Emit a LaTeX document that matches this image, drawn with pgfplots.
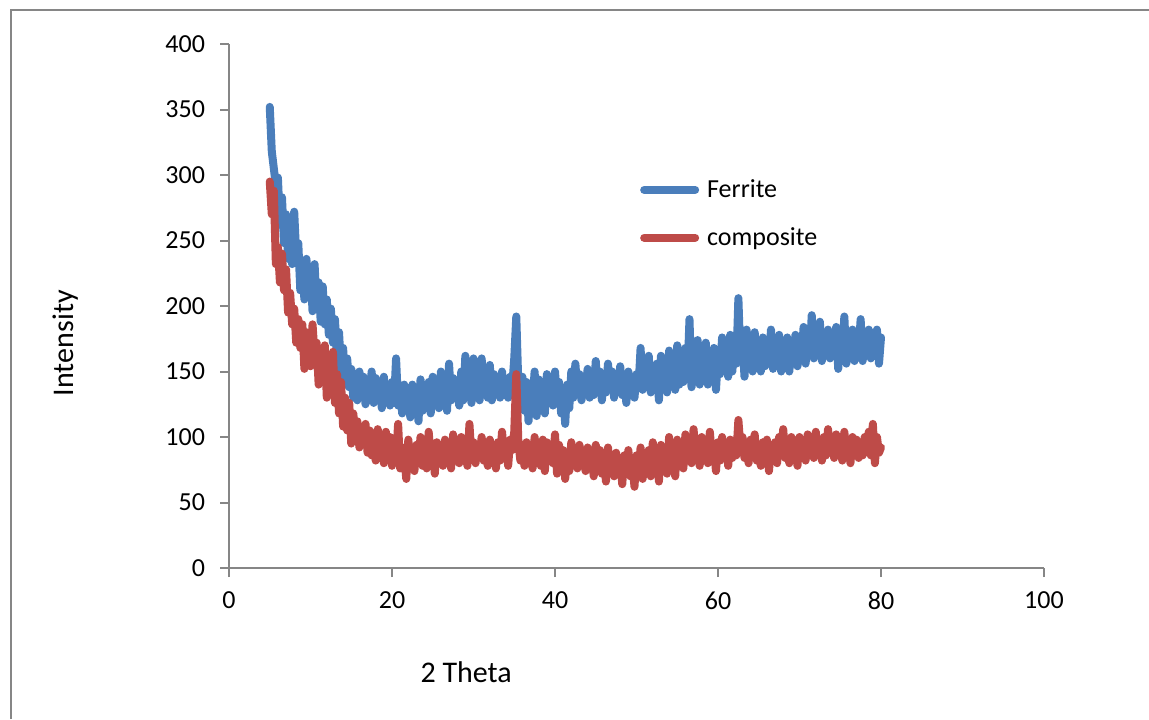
\documentclass[border=0pt]{standalone}
\usepackage{fontspec}
\setmainfont{Carlito}
\usepackage{pgfplots}
\usepackage{pgfplotstable}
\pgfplotsset{compat=1.18}

\definecolor{ferriteblue}{RGB}{74,126,187}
\definecolor{compositered}{RGB}{190,75,72}
\definecolor{axisgrey}{RGB}{134,134,134}

% 2 theta, Ferrite intensity, composite intensity
\pgfplotstableread{
x ferrite composite
5.00 352 295
5.25 318 270
5.50 305 288
5.75 292 232
6.00 298 245
6.25 262 218
6.50 283 240
6.75 248 212
7.00 270 228
7.25 236 195
7.50 255 210
7.75 232 186
8.00 272 198
8.25 238 172
8.50 248 190
8.75 212 168
9.00 230 186
9.25 205 152
9.50 236 180
9.75 210 170
10.00 228 154
10.25 196 186
10.50 232 162
10.75 200 172
11.00 218 140
11.25 188 165
11.50 215 150
11.75 186 170
12.00 205 130
12.25 178 160
12.50 198 136
12.75 172 165
13.00 190 126
13.25 160 148
13.50 180 118
13.75 150 142
14.00 168 108
14.25 140 130
14.50 160 105
14.75 138 126
15.00 152 95
15.25 130 118
15.50 148 100
15.75 128 112
16.00 150 92
16.25 132 108
16.50 146 96
16.75 125 110
17.00 144 88
17.25 130 105
17.50 150 86
17.75 126 100
18.00 145 82
18.25 128 106
18.50 140 90
18.75 122 98
19.00 146 80
19.25 128 104
19.50 138 84
19.75 124 100
20.00 142 78
20.25 126 96
20.50 160 84
20.75 124 110
21.00 138 76
21.25 118 92
21.50 140 86
21.75 122 68
22.00 132 98
22.25 115 80
22.50 140 90
22.75 126 74
23.00 136 94
23.25 112 82
23.50 144 100
23.75 120 78
24.00 138 92
24.25 126 76
24.50 142 104
24.75 118 84
25.00 146 92
25.25 128 72
25.50 138 96
25.75 122 84
26.00 150 90
26.25 124 78
26.50 140 98
26.75 120 80
27.00 156 92
27.25 128 76
27.50 145 102
27.75 130 84
28.00 138 94
28.25 124 80
28.50 150 100
28.75 128 86
29.00 162 92
29.25 132 78
29.50 146 110
29.75 126 84
30.00 160 96
30.25 134 80
30.50 148 94
30.75 128 86
31.00 160 100
31.25 134 82
31.50 144 90
31.75 130 78
32.00 155 98
32.25 128 88
32.50 148 92
32.75 136 76
33.00 142 96
33.25 130 82
33.50 150 104
33.75 132 86
34.00 140 92
34.25 130 78
34.50 146 98
34.75 138 90
35.00 160 104
35.25 192 148
35.50 140 96
35.75 134 82
36.00 146 94
36.25 120 78
36.50 142 96
36.75 112 84
37.00 138 90
37.25 128 76
37.50 150 100
37.75 116 80
38.00 144 92
38.25 128 78
38.50 138 98
38.75 118 74
39.00 148 96
39.25 130 84
39.50 140 92
39.75 124 80
40.00 150 102
40.25 128 72
40.50 142 94
40.75 118 78
41.00 136 90
41.25 110 68
41.50 140 86
41.75 122 74
42.00 150 96
42.25 130 80
42.50 156 90
42.75 134 76
43.00 148 94
43.25 128 80
43.50 144 88
43.75 136 74
44.00 152 92
44.25 130 82
44.50 146 86
44.75 132 70
45.00 158 94
45.25 136 78
45.50 150 90
45.75 128 72
46.00 146 86
46.25 134 66
46.50 156 92
46.75 138 76
47.00 150 84
47.25 130 70
47.50 148 88
47.75 136 72
48.00 154 82
48.25 132 64
48.50 146 86
48.75 126 74
49.00 150 90
49.25 138 70
49.50 144 80
49.75 130 62
50.00 148 86
50.25 138 72
50.50 168 92
50.75 136 68
51.00 154 84
51.25 140 74
51.50 162 90
51.75 134 70
52.00 150 96
52.25 142 76
52.50 156 88
52.75 128 66
53.00 162 94
53.25 140 80
53.50 152 88
53.75 134 72
54.00 166 100
54.25 142 78
54.50 158 92
54.75 136 70
55.00 170 98
55.25 140 80
55.50 160 90
55.75 142 76
56.00 168 102
56.25 146 82
56.50 190 96
56.75 138 80
57.00 162 106
57.25 148 86
57.50 174 94
57.75 140 78
58.00 166 100
58.25 148 84
58.50 172 96
58.75 140 80
59.00 160 104
59.25 146 84
59.50 168 92
59.75 136 74
60.00 162 96
60.25 148 82
60.50 176 100
60.75 152 86
61.00 170 94
61.25 146 78
61.50 178 98
61.75 150 84
62.00 170 96
62.25 156 86
62.50 206 113
62.75 158 92
63.00 174 100
63.25 146 84
63.50 182 96
63.75 156 80
64.00 170 98
64.25 150 86
64.50 180 102
64.75 158 82
65.00 168 94
65.25 150 78
65.50 176 96
65.75 154 84
66.00 172 98
66.25 156 74
66.50 182 92
66.75 152 82
67.00 170 96
67.25 158 80
67.50 178 100
67.75 150 86
68.00 172 106
68.25 156 84
68.50 176 94
68.75 150 80
69.00 172 100
69.25 158 86
69.50 178 94
69.75 154 78
70.00 174 100
70.25 160 84
70.50 184 96
70.75 156 82
71.00 178 102
71.25 162 86
71.50 193 98
71.75 160 84
72.00 180 104
72.25 164 88
72.50 188 96
72.75 158 82
73.00 176 100
73.25 164 86
73.50 182 106
73.75 160 88
74.00 178 98
74.25 166 84
74.50 184 102
74.75 152 88
75.00 176 96
75.25 160 82
75.50 192 104
75.75 156 86
76.00 172 94
76.25 162 80
76.50 182 100
76.75 158 88
77.00 176 98
77.25 164 84
77.50 190 96
77.75 158 86
78.00 178 100
78.25 162 90
78.50 182 104
78.75 160 86
79.00 176 110
79.25 162 80
79.50 182 100
79.75 156 88
80.00 176 92
}\xrddata

\begin{document}
\begin{tikzpicture}
\useasboundingbox (0,0) rectangle (574.5pt,359.5pt);
% outer chart frame
\draw[axisgrey, line width=1pt] (5.5pt,0pt) -- (5.5pt,354.5pt) -- (580pt,354.5pt);
\begin{axis}[
  at={(114.5pt,75.5pt)}, anchor=south west,
  scale only axis,
  width=407.5pt, height=262pt,
  xmin=0, xmax=100, ymin=0, ymax=400,
  xtick={0,20,...,100},
  ytick={0,50,...,400},
  axis lines*=left,
  axis line style={axisgrey, line width=1pt},
  tick style={axisgrey, line width=1pt},
  tick align=outside,
  major tick length=4.5pt,
  /pgf/number format/assume math mode=true,
  tick label style={font=\fontsize{13}{15}\selectfont, text=black},
  yticklabel style={xshift=-4pt},
  xticklabel style={yshift=-4pt},
  xlabel={2 Theta},
  ylabel={Intensity},
  label style={font=\fontsize{15}{18}\selectfont},
  xlabel style={at={(axis description cs:0.291,-0.198)}, anchor=center},
  ylabel style={at={(axis description cs:-0.2,0.429)}, anchor=center},
  legend style={draw=none, fill=none, at={(axis cs:50.4,300)}, anchor=north west,
    font=\fontsize{13}{15}\selectfont, row sep=9.5pt, inner sep=0pt,
    nodes={inner sep=2pt},
    /tikz/every odd column/.append style={column sep=2pt}},
  legend cell align=left,
  legend image code/.code={\draw[#1, line cap=round] (2.5pt,0pt) -- (28pt,0pt);},
]
\addplot[ferriteblue, line width=4pt, line join=round, line cap=round] table[x=x, y=ferrite] {\xrddata};
\addlegendentry{Ferrite}
\addplot[compositered, line width=4pt, line join=round, line cap=round] table[x=x, y=composite] {\xrddata};
\addlegendentry{composite}
\end{axis}
\end{tikzpicture}
\end{document}
